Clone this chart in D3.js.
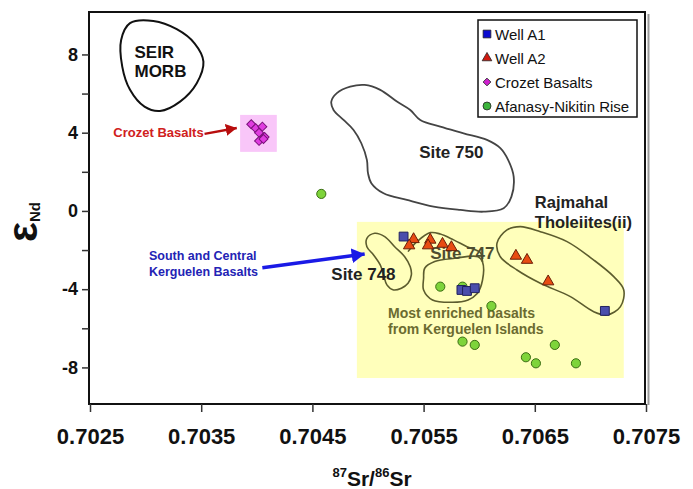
<!DOCTYPE html>
<html>
<head>
<meta charset="utf-8">
<script src="https://cdnjs.cloudflare.com/ajax/libs/d3/7.8.5/d3.min.js"></script>
<style>
  body { margin: 0; background: #fff; }
  svg { display: block; font-family: "Liberation Sans", Arial, sans-serif; }
</style>
</head>
<body>
<div id="chart"></div>
<script>
// ---- data (87Sr/86Sr, eps Nd) ----
const wellA1Sr = [0.70532, 0.70584, 0.70589, 0.70596, 0.70713];
const wellA1Nd = [-1.31, -4.04, -4.09, -3.95, -5.11];
const wellA2Sr = [0.70541, 0.70537, 0.70556, 0.70554, 0.70567, 0.70575, 0.70633, 0.70643, 0.70662];
const wellA2Nd = [-1.45, -1.77, -1.48, -1.77, -1.69, -1.86, -2.30, -2.51, -3.61];
const crozetSr = [0.70395, 0.70399, 0.70405, 0.70402, 0.70407, 0.70402, 0.70406];
const crozetNd = [4.43, 4.23, 4.31, 4.00, 3.78, 3.58, 3.68];
const afanasySr = [0.70458, 0.70565, 0.70585, 0.70611, 0.70585, 0.70596, 0.70668, 0.70642, 0.70651, 0.70687];
const afanasyNd = [0.87, -3.87, -3.87, -4.86, -6.68, -6.85, -6.85, -7.48, -7.79, -7.79];

const xTicks = [0.7025, 0.7035, 0.7045, 0.7055, 0.7065, 0.7075];
const yTicks = [-8, -6, -4, -2, 0, 2, 4, 6, 8];
const yLabelled = [-8, -4, 0, 4, 8];

// field outlines [Sr, Nd]
const seirMorb = [[0.70286, 9.60], [0.70307, 9.71], [0.70328, 9.29], [0.70344, 8.57], [0.70352, 7.63], [0.70346, 6.53],
  [0.70331, 5.59], [0.70313, 5.11], [0.70299, 5.33], [0.70286, 6.19], [0.70279, 7.38], [0.70278, 8.74]];
const site750 = [[0.70467, 5.59], [0.70472, 6.02], [0.70484, 6.35], [0.70497, 6.44], [0.70511, 6.19], [0.70526, 5.59],
  [0.70538, 5.16], [0.70547, 4.65], [0.70565, 4.31], [0.70586, 3.97], [0.70607, 3.63], [0.70619, 3.21],
  [0.70626, 2.61], [0.70631, 1.75], [0.70629, 0.73], [0.70622, 0.14], [0.70604, -0.04], [0.70583, 0.05],
  [0.70559, 0.22], [0.70535, 0.56], [0.70514, 0.90], [0.70503, 1.42], [0.70500, 1.93], [0.70499, 2.61],
  [0.70494, 3.46], [0.70487, 4.14], [0.70478, 4.65], [0.70469, 5.16]];
const site748 = [[0.70499, -1.40], [0.70506, -1.14], [0.70515, -1.31], [0.70524, -1.83], [0.70533, -2.34], [0.70538, -2.85],
  [0.70539, -3.27], [0.70536, -3.70], [0.70530, -3.95], [0.70523, -4.04], [0.70517, -3.78], [0.70514, -3.27],
  [0.70511, -2.76], [0.70505, -2.25], [0.70499, -1.83]];
const site747Arc = [[0.70536, -2.08], [0.70544, -1.57], [0.70556, -1.11], [0.70565, -1.18], [0.70577, -1.48],
  [0.70589, -1.83], [0.70601, -2.13], [0.70603, -2.61]];
const site747Loop = [[0.70550, -3.44], [0.70551, -2.93], [0.70560, -2.59], [0.70578, -2.42], [0.70599, -2.34], [0.70603, -2.61],
  [0.70603, -3.53], [0.70598, -4.24], [0.70590, -4.55], [0.70576, -4.67], [0.70558, -4.55], [0.70550, -4.04]];
const rajmahal = [[0.70616, -1.65], [0.70625, -0.97], [0.70637, -0.80], [0.70655, -1.06], [0.70679, -1.57], [0.70703, -2.51],
  [0.70721, -3.36], [0.70730, -4.04], [0.70727, -4.89], [0.70715, -5.32], [0.70703, -5.15], [0.70682, -4.38],
  [0.70655, -3.70], [0.70634, -3.02], [0.70619, -2.34]];

// shaded fields [Sr0, Nd0, Sr1, Nd1]
const kerguelenBox = [0.70490, -0.56, 0.70730, -8.54];
const crozetBox = [0.70385, 4.91, 0.70418, 3.02];

// annotation arrows [Sr0, Nd0, Sr1, Nd1]
const crozetArrow = [0.70353, 3.94, 0.70382, 4.24];
const kerguelenArrow = [0.70405, -2.91, 0.70497, -2.20];

// ---- layout ----
const width = 693, height = 489;
const plotL = 90, plotR = 646, plotT = 12, plotB = 404;

const svg = d3.select('#chart').append('svg')
  .attr('width', width)
  .attr('height', height);

svg.append('rect').attr('width', width).attr('height', height).attr('fill', '#fff');

const x = d3.scaleLinear().domain([0.7025, 0.7075]).range([plotL, plotR]);
const y = d3.scaleLinear().domain([-9.87, 10.17]).range([plotB, plotT]);

const defs = svg.append('defs');
function arrowMarker(id, color, len, wid) {
  defs.append('marker')
    .attr('id', id)
    .attr('viewBox', `0 ${-wid / 2} ${len} ${wid}`)
    .attr('refX', len).attr('refY', 0)
    .attr('markerUnits', 'userSpaceOnUse')
    .attr('markerWidth', len).attr('markerHeight', wid)
    .attr('orient', 'auto')
    .append('path')
    .attr('d', `M0,${-wid / 2}L${len},0L0,${wid / 2}Z`)
    .attr('fill', color);
}
arrowMarker('redHead', '#b80d0d', 11, 12);
arrowMarker('blueHead', '#1a1ae6', 13, 15);

// shaded boxes
function box(b, fill) {
  svg.append('rect')
    .attr('x', x(b[0])).attr('y', y(b[1]))
    .attr('width', x(b[2]) - x(b[0]))
    .attr('height', y(b[3]) - y(b[1]))
    .attr('fill', fill);
}
box(kerguelenBox, '#ffffbb');
box(crozetBox, '#f9c6f9');

// outlines
const closed = d3.line().x(d => x(d[0])).y(d => y(d[1])).curve(d3.curveCatmullRomClosed.alpha(0.5));
const open = d3.line().x(d => x(d[0])).y(d => y(d[1])).curve(d3.curveCatmullRom.alpha(0.5));

const g = svg.append('g').attr('fill', 'none');
g.append('path').attr('d', closed(seirMorb)).attr('stroke', '#111').attr('stroke-width', 2);
g.append('path').attr('d', closed(site750)).attr('stroke', '#444').attr('stroke-width', 1.8);
const olive = '#5c5c2e';
g.append('path').attr('d', closed(site748)).attr('stroke', olive).attr('stroke-width', 1.6);
g.append('path').attr('d', open(site747Arc)).attr('stroke', olive).attr('stroke-width', 1.6);
g.append('path').attr('d', closed(site747Loop)).attr('stroke', olive).attr('stroke-width', 1.6);
g.append('path').attr('d', closed(rajmahal)).attr('stroke', olive).attr('stroke-width', 1.6);

// arrows
function arrow(a, color, w, marker) {
  svg.append('line')
    .attr('x1', x(a[0])).attr('y1', y(a[1]))
    .attr('x2', x(a[2])).attr('y2', y(a[3]))
    .attr('stroke', color).attr('stroke-width', w)
    .attr('marker-end', `url(#${marker})`);
}
arrow(crozetArrow, '#b80d0d', 2.5, 'redHead');
arrow(kerguelenArrow, '#1a1ae6', 3.5, 'blueHead');

// annotation text [text, Sr, Nd, size, color]
const notes = [
  ['SEIR', 0.70290, 7.83, 17, '#111'],
  ['MORB', 0.70290, 6.83, 17, '#111'],
  ['Crozet Basalts', 0.70271, 3.80, 13, '#d02020'],
  ['Site 750', 0.70546, 2.72, 17, '#222'],
  ['Rajmahal', 0.70650, 0.17, 16.5, '#222'],
  ['Tholeiites(ii)', 0.70650, -0.85, 16.5, '#222'],
  ['Site 748', 0.70467, -3.55, 17, '#222'],
  ['Site 747', 0.70556, -2.45, 17, '#4d4d30'],
  ['Most enriched basalts', 0.70518, -5.47, 14, '#6b6b30'],
  ['from Kerguelen Islands', 0.70518, -6.29, 14, '#6b6b30'],
  ['South and Central', 0.70303, -2.53, 12.5, '#2323b5'],
  ['Kerguelen Basalts', 0.70303, -3.33, 12.5, '#2323b5']
];
svg.append('g').selectAll('text').data(notes).enter().append('text')
  .attr('x', d => x(d[1])).attr('y', d => y(d[2]))
  .attr('font-size', d => d[3])
  .attr('font-weight', 'bold')
  .attr('fill', d => d[4])
  .text(d => d[0]);

// points
function series(srs, nds, type, size, fill, stroke, rot) {
  svg.append('g').selectAll('path').data(srs).enter().append('path')
    .attr('d', d3.symbol().type(type).size(size))
    .attr('transform', (d, i) => `translate(${x(d)},${y(nds[i])}) rotate(${rot || 0})`)
    .attr('fill', fill).attr('stroke', stroke).attr('stroke-width', 1);
}
series(afanasySr, afanasyNd, d3.symbolCircle, 66, '#7ed43a', '#3b6e14');
series(crozetSr, crozetNd, d3.symbolSquare, 40, '#e03ce0', '#7a107a', 45);
series(wellA2Sr, wellA2Nd, d3.symbolTriangle, 56, '#e84c12', '#6a1e08');
series(wellA1Sr, wellA1Nd, d3.symbolSquare, 78, '#4a4eac', '#22225e');

// frame
svg.append('line').attr('x1', plotR + 2.5).attr('x2', plotR + 2.5).attr('y1', plotT + 2).attr('y2', plotB + 1)
  .attr('stroke', '#999').attr('stroke-width', 2);
svg.append('rect')
  .attr('x', plotL - 1).attr('y', plotT).attr('width', plotR - plotL).attr('height', plotB - plotT)
  .attr('fill', 'none').attr('stroke', '#111').attr('stroke-width', 2);

// axes
const xAxis = svg.append('g').attr('transform', `translate(0,${plotB})`)
  .call(d3.axisBottom(x).tickValues(xTicks).tickSize(8).tickPadding(16).tickFormat(d3.format('.4f')));
xAxis.select('.domain').remove();
xAxis.selectAll('line').attr('stroke', '#333').attr('stroke-width', 1.5);
xAxis.selectAll('text').attr('font-size', 22).attr('font-weight', 'bold').attr('fill', '#111')
  .attr('font-family', '"Liberation Sans", Arial, sans-serif');

const yAxis = svg.append('g').attr('transform', `translate(${plotL - 1},0)`)
  .call(d3.axisLeft(y).tickValues(yTicks).tickSize(7).tickPadding(4)
    .tickFormat(d => yLabelled.includes(d) ? d : ''));
yAxis.select('.domain').remove();
yAxis.selectAll('line').attr('stroke', '#333').attr('stroke-width', 1.5);
yAxis.selectAll('text').attr('font-size', 18).attr('font-weight', 'bold').attr('fill', '#111')
  .attr('font-family', '"Liberation Sans", Arial, sans-serif');

// axis titles
const xt = svg.append('text')
  .attr('x', 372).attr('y', 486)
  .attr('text-anchor', 'middle')
  .attr('font-weight', 'bold').attr('fill', '#111');
xt.append('tspan').attr('font-size', 13).attr('dy', -9).text('87');
xt.append('tspan').attr('font-size', 21).attr('dy', 9).text('Sr/');
xt.append('tspan').attr('font-size', 13).attr('dy', -9).text('86');
xt.append('tspan').attr('font-size', 21).attr('dy', 9).text('Sr');

const yt = svg.append('text')
  .attr('transform', 'translate(37,242) rotate(-90)')
  .attr('font-weight', 'bold').attr('fill', '#111');
yt.append('tspan').attr('font-size', 42).text('ε');
yt.append('tspan').attr('font-size', 15).attr('dy', 3).text('Nd');

// legend
const legendItems = [
  { name: 'Well A1', type: d3.symbolSquare, size: 60, fill: '#0a0ad0', rot: 0 },
  { name: 'Well A2', type: d3.symbolTriangle, size: 40, fill: '#d01a10', rot: 0 },
  { name: 'Crozet Basalts', type: d3.symbolSquare, size: 30, fill: '#d020d0', rot: 45 },
  { name: 'Afanasy-Nikitin Rise', type: d3.symbolCircle, size: 50, fill: '#3cb43c', rot: 0 }
];
const legend = svg.append('g');
legend.append('rect').attr('x', 478).attr('y', 20).attr('width', 159).attr('height', 97)
  .attr('fill', '#fff').attr('stroke', '#111').attr('stroke-width', 1.5);
const li = legend.selectAll('g.item').data(legendItems).enter().append('g')
  .attr('transform', (d, i) => `translate(487,${34 + i * 24})`);
li.append('path')
  .attr('d', d => d3.symbol().type(d.type).size(d.size)())
  .attr('transform', d => `rotate(${d.rot})`)
  .attr('fill', d => d.fill).attr('stroke', '#222').attr('stroke-width', 0.8);
li.append('text').attr('x', 8).attr('y', 5.5)
  .attr('font-size', 15).attr('fill', '#111')
  .text(d => d.name);
</script>
</body>
</html>
